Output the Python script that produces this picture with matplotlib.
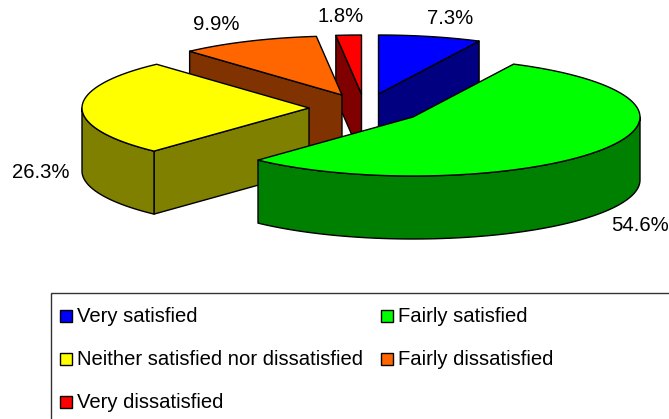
import numpy as np
import matplotlib
matplotlib.use('Agg')
import matplotlib.pyplot as plt
from matplotlib.patches import Polygon, Rectangle

plt.rcParams['font.family'] = ['Liberation Sans', 'DejaVu Sans']

# data
categories = ['Very satisfied', 'Fairly satisfied', 'Neither satisfied nor dissatisfied',
              'Fairly dissatisfied', 'Very dissatisfied']
values = [7.3, 54.6, 26.3, 9.9, 1.8]
top_colors = ['#0000ff', '#00ff00', '#ffff00', '#ff6600', '#ff0000']
side_colors = ['#000080', '#008000', '#808000', '#803300', '#800000']

# layout, in image pixels
apex_x = [378.5, 413, 309, 342, 361.5]
apex_y = [94, 117, 108, 95, 94]
label_x = [450, 640, 41, 216, 341]
label_y = [18.5, 225.5, 172.5, 24.5, 16.5]
legend_x = [60, 381, 60, 381, 60]
legend_y = [316, 316, 359, 359, 402]
rx, ry, depth = 227, 59, 63
draw_order = [4, 0, 3, 2, 1]

fig = plt.figure(figsize=(6.69, 4.19), dpi=100)
ax = fig.add_axes([0, 0, 1, 1])
ax.set_xlim(0, 669)
ax.set_ylim(419, 0)
ax.axis('off')


def rim(i, t):
    # t in degrees, clockwise from the top of the pie
    a = np.radians(t)
    return apex_x[i] + rx*np.sin(a), apex_y[i] - ry*np.cos(a)


def arc(i, t1, t2):
    t = np.linspace(t1, t2, 80)
    x, y = rim(i, t)
    return np.column_stack([x, y])


def wall(pts, color, z):
    pts = np.asarray(pts)
    low = pts[::-1] + [0, depth]
    ax.add_patch(Polygon(np.vstack([pts, low]), closed=True, fc=color, ec='black', lw=1.0,
                         joinstyle='round', zorder=z))


edges = np.cumsum([0] + values)/np.sum(values)*360
for n, i in enumerate(draw_order):
    t1, t2 = edges[i], edges[i+1]
    z = 2 + n
    apex = [apex_x[i], apex_y[i]]
    # straight walls that face the viewer
    if np.sin(np.radians(t1)) < -1e-6:
        wall([rim(i, t1), apex], side_colors[i], z)
    if np.sin(np.radians(t2)) > 1e-6:
        wall([apex, rim(i, t2)], side_colors[i], z)
    # outer wall, front half of the rim only
    a1, a2 = max(t1, 90), min(t2, 270)
    if a2 > a1:
        wall(arc(i, a1, a2), side_colors[i], z)
    top = np.vstack([[apex], arc(i, t1, t2)])
    ax.add_patch(Polygon(top, closed=True, fc=top_colors[i], ec='black', lw=1.0,
                         joinstyle='round', zorder=z))

for i in range(len(values)):
    ax.text(label_x[i], label_y[i], '%.1f%%' % values[i], fontsize=14.6, color='black',
            ha='center', va='center', zorder=20)

# legend
ax.add_patch(Rectangle((51, 293), 700, 200, fc='white', ec='#333333', lw=1.0, zorder=1))
for i, name in enumerate(categories):
    ax.add_patch(Rectangle((legend_x[i], legend_y[i]-6), 12, 12, fc=top_colors[i], ec='black',
                           lw=1.0, zorder=20))
    ax.text(legend_x[i]+17, legend_y[i]+0.5, name, fontsize=14.6, color='black',
            ha='left', va='center', zorder=20)

fig.savefig('out.png', dpi=100)
